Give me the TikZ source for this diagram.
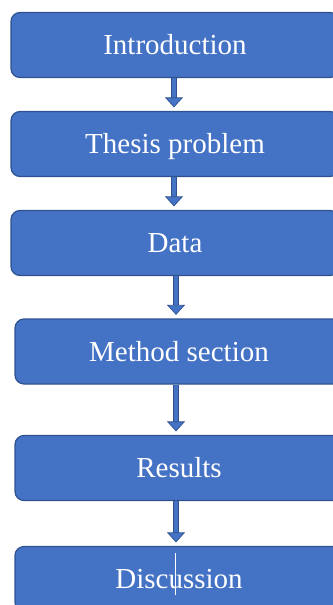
\documentclass[tikz,border=0pt]{standalone}
\usepackage{fontspec}
\setmainfont{Liberation Serif}
\usetikzlibrary{arrows.meta}
\definecolor{boxfill}{HTML}{4472C4}
\definecolor{boxline}{HTML}{2F528F}

\begin{document}
\begin{tikzpicture}[x=1pt,y=-1pt,
  stage/.style={draw=boxline,line width=1.2pt,fill=boxfill,rounded corners=9pt,
    minimum width=328pt,minimum height=65pt,text height=19pt,text depth=0pt,
    text=white,font=\fontsize{29}{32}\selectfont},
  flow/.style={draw=boxline,line width=0.7pt,double=boxfill,double distance=4pt,shorten >=3.5pt,
    -{Triangle[width=18pt,length=10pt,line width=0.7pt,fill=boxfill]}}]
  \useasboundingbox (0,0) rectangle (332,605);
  % stages
  \node[stage] (intro) at (175,45) {Introduction};
  \node[stage] (problem) at (175,144) {Thesis problem};
  \node[stage] (data) at (175,243) {Data};
  \node[stage] (method) at (179,351.5) {Method section};
  \node[stage] (results) at (179,468) {Results};
  \node[stage] (discussion) at (179,579) {Discussion};
  % arrows
  \draw[flow] ([xshift=-1pt]intro.south) -- ([xshift=-1pt]intro.south |- problem.north);
  \draw[flow] ([xshift=-1pt]problem.south) -- ([xshift=-1pt]problem.south |- data.north);
  \draw[flow] ([xshift=1pt]data.south) -- ([xshift=1pt]data.south |- method.north);
  \draw[flow] ([xshift=-3pt]method.south) -- ([xshift=-3pt]method.south |- results.north);
  \draw[flow] ([xshift=-3pt]results.south) -- ([xshift=-3pt]results.south |- discussion.north);
  % text cursor
  \draw[white,line width=0.5pt] (175,553) -- (175,595);
\end{tikzpicture}
\end{document}
